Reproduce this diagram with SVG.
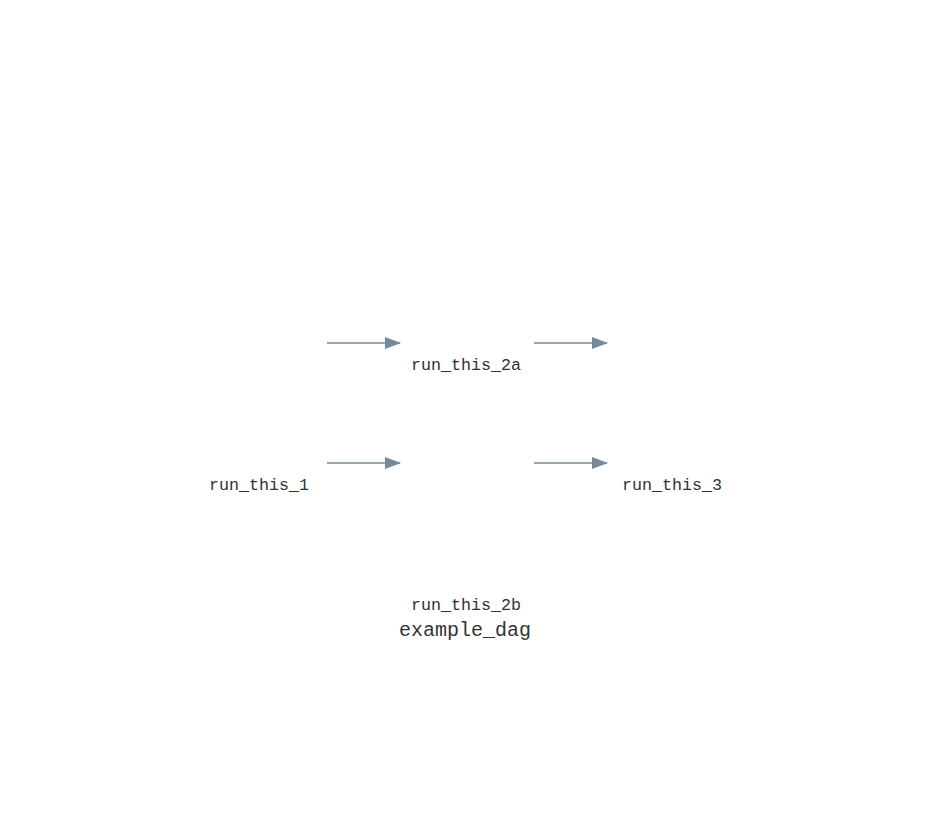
<svg xmlns="http://www.w3.org/2000/svg" width="932" height="840" viewBox="0 0 932 840">
<defs>
<marker id="arr" markerWidth="16" markerHeight="12" refX="15" refY="6" orient="auto" markerUnits="userSpaceOnUse">
<path d="M0,0 L16,6 L0,12 Z" fill="#778899"/>
</marker>
<style>
.lbl{font-family:"Liberation Mono","DejaVu Sans Mono",monospace;font-size:16.67px;fill:#333333;text-anchor:middle}
.ttl{font-family:"Liberation Mono","DejaVu Sans Mono",monospace;font-size:20px;fill:#333333;text-anchor:middle}
.edge{stroke:#778899;stroke-width:1.5;fill:none}
</style>
</defs>
<rect width="932" height="840" fill="#ffffff"/>
<g id="connectors">
<line class="edge" x1="327" y1="343" x2="400" y2="343" marker-end="url(#arr)"/>
<line class="edge" x1="534" y1="343" x2="607" y2="343" marker-end="url(#arr)"/>
<line class="edge" x1="327" y1="463" x2="400" y2="463" marker-end="url(#arr)"/>
<line class="edge" x1="534" y1="463" x2="607" y2="463" marker-end="url(#arr)"/>
</g>
<g id="run_this_1"><text class="lbl" x="259" y="490">run_this_1</text></g>
<g id="run_this_2a"><text class="lbl" x="466" y="370">run_this_2a</text></g>
<g id="run_this_2b"><text class="lbl" x="466" y="610">run_this_2b</text></g>
<g id="run_this_3"><text class="lbl" x="672" y="490">run_this_3</text></g>
<g id="title"><text class="ttl" x="465" y="636">example_dag</text></g>
</svg>
